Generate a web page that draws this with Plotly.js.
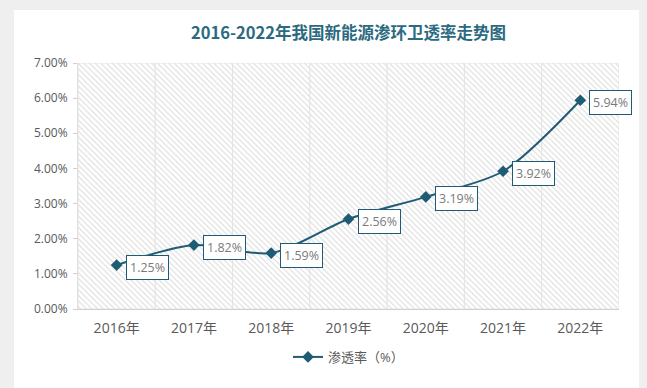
<!DOCTYPE html>
<html><head><meta charset="utf-8">
<script src="https://cdn.plot.ly/plotly-3.0.1.min.js"></script>
<style>html,body{margin:0;padding:0;background:#efefef;}#chart{width:647px;height:388px;}</style>
</head><body><div id="chart"></div>
<script>
const years = ["2016年","2017年","2018年","2019年","2020年","2021年","2022年"];
const rates = [1.25, 1.82, 1.59, 2.56, 3.19, 3.92, 5.94];
const seriesName = "渗透率（%）";
const titleText = "2016-2022年我国新能源渗环卫透率走势图";

const teal = "#1e5b74";
const font = "'Open Sans', 'Noto Sans CJK SC', sans-serif";
const yMax = 7;

const bg = {
  type: "bar", x: years, y: years.map(() => yMax), yaxis: "y",
  width: 1, hoverinfo: "skip", showlegend: false,
  marker: {color: "#ffffff", line: {color: "#e4e4e4", width: 1},
    pattern: {shape: "\\", fgcolor: "#dadada", bgcolor: "#ffffff", size: 4, solidity: 0.25}}
};
const line = {
  type: "scatter", mode: "lines+markers", x: years, y: rates, name: seriesName, yaxis: "y2",
  line: {color: teal, width: 2, shape: "spline", smoothing: 0.8},
  marker: {symbol: "diamond", size: 9, color: teal}
};
const annotations = years.map((yr, i) => ({
  x: yr, y: rates[i], xref: "x", yref: "y2", text: rates[i].toFixed(2) + "%",
  showarrow: false, xanchor: "left", yanchor: "middle", xshift: 9, yshift: -2,
  bgcolor: "#ffffff", bordercolor: teal, borderwidth: 1, borderpad: 3,
  font: {family: font, size: 12.5, color: "#7a7a7a"}
}));

const layout = {
  width: 647, height: 388,
  paper_bgcolor: "#efefef", plot_bgcolor: "#ffffff",
  margin: {l: 78, r: 28, t: 63, b: 79},
  title: {text: "<b>" + titleText + "</b>", x: 0.5, xanchor: "center", xref: "paper",
    y: 0.915, yanchor: "middle", font: {family: "'Noto Sans CJK SC', sans-serif", size: 16.5, color: "#2b6a80"}},
  xaxis: {type: "category", range: [-0.5, 6.5], showgrid: false, zeroline: false,
    showline: true, linecolor: "#d0d0d0", linewidth: 1, ticks: "", ticklabelstandoff: 6,
    tickfont: {family: font, size: 14, color: "#595959"}, fixedrange: true},
  yaxis: {range: [0, yMax], dtick: 1, tickformat: ".2f", ticksuffix: "%", showgrid: false,
    zeroline: false, showline: true, linecolor: "#e0e0e0", ticks: "outside", ticklen: 4, tickcolor: "#d0d0d0",
    ticklabelstandoff: 3,
    tickfont: {family: font, size: 12, color: "#595959"}, fixedrange: true},
  yaxis2: {range: [0, yMax], overlaying: "y", visible: false, fixedrange: true},
  bargap: 0,
  showlegend: true,
  legend: {orientation: "h", x: 0.5, xanchor: "center", y: -0.195, yanchor: "middle",
    font: {family: font, size: 13, color: "#595959"}, bgcolor: "rgba(0,0,0,0)"},
  annotations: annotations,
  shapes: [{type: "rect", xref: "paper", yref: "paper", x0: -64/541, x1: 1 + 20/541, y0: -80/246, y1: 1 + 53/246,
    fillcolor: "#ffffff", line: {width: 0}, layer: "below"}]
};
Plotly.newPlot("chart", [bg, line], layout, {displayModeBar: false, staticPlot: true});
</script></body></html>
